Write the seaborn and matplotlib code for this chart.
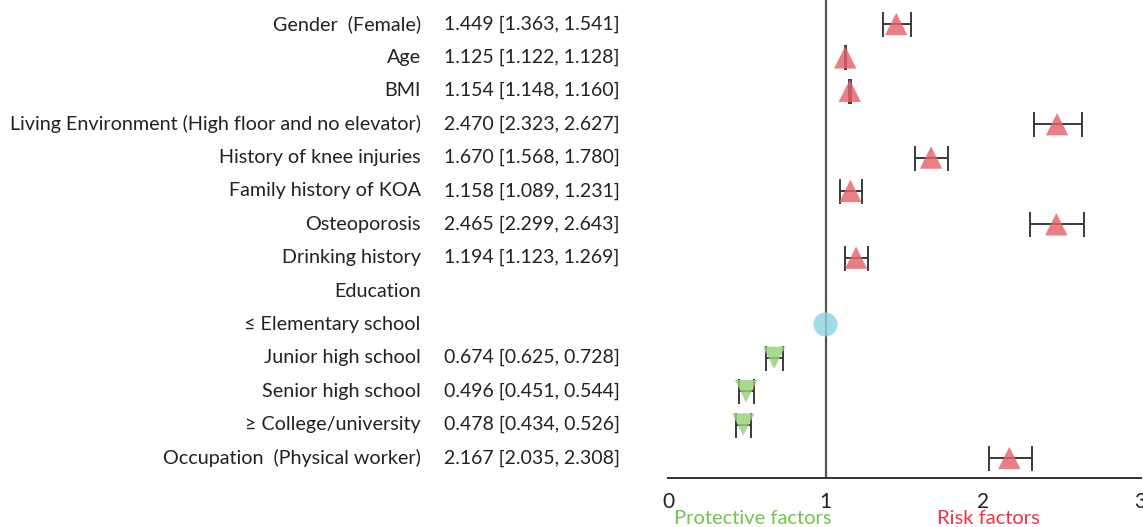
import numpy as np
import pandas as pd
import matplotlib.pyplot as plt
import seaborn as sns

# row labels, top to bottom
labels = ["Gender  (Female)", "Age", "BMI",
          "Living Environment (High floor and no elevator)",
          "History of knee injuries", "Family history of KOA", "Osteoporosis",
          "Drinking history", "Education", "\u2264 Elementary school",
          "Junior high school", "Senior high school", "\u2265 College/university",
          "Occupation  (Physical worker)"]
odds = [1.449, 1.125, 1.154, 2.470, 1.670, 1.158, 2.465, 1.194,
        np.nan, 1.0, 0.674, 0.496, 0.478, 2.167]
lower = [1.363, 1.122, 1.148, 2.323, 1.568, 1.089, 2.299, 1.123,
         np.nan, np.nan, 0.625, 0.451, 0.434, 2.035]
upper = [1.541, 1.128, 1.160, 2.627, 1.780, 1.231, 2.643, 1.269,
         np.nan, np.nan, 0.728, 0.544, 0.526, 2.308]
kind = ["risk"] * 8 + ["none", "ref", "prot", "prot", "prot", "risk"]

df = pd.DataFrame({"label": labels, "OR": odds, "lo": lower, "hi": upper, "kind": kind})
df["row"] = np.arange(len(df))

sns.set_style("white")
plt.rcParams["font.family"] = ["Lato", "DejaVu Sans"]

fig = plt.figure(figsize=(11.43, 5.27), dpi=100)
ax = fig.add_axes([0.5844, 0.093, 0.4135, 0.907])

palette = {"risk": "#e6626a", "prot": "#94d277", "ref": "#8dd4e1"}
markers = {"risk": "^", "prot": "v", "ref": "o"}
sizes = {"risk": 260, "prot": 260, "ref": 300}

# error bars first, markers on top (semi-transparent so the bar shows through)
ci = df.dropna(subset=["lo"])
ax.errorbar(ci["OR"], ci["row"], xerr=[ci["OR"] - ci["lo"], ci["hi"] - ci["OR"]],
            fmt="none", ecolor="#3a3a3a", elinewidth=1.4, capsize=9, capthick=1.4, zorder=2)

for k in ["risk", "prot", "ref"]:
    sub = df[df["kind"] == k]
    sns.scatterplot(data=sub, x="OR", y="row", marker=markers[k], s=sizes[k],
                    color=palette[k], alpha=0.82, edgecolor="none", ax=ax, zorder=3)

ax.axvline(1, color="#555555", lw=1.6, zorder=1)

ax.set_xlim(0, 3)
ax.set_ylim(13.6, -0.72)
ax.set_xticks([0, 1, 2, 3])
ax.set_yticks([])
ax.set_xlabel("")
ax.set_ylabel("")
for s in ["top", "left", "right"]:
    ax.spines[s].set_visible(False)
ax.spines["bottom"].set_color("#333333")
ax.spines["bottom"].set_linewidth(1.4)
ax.tick_params(axis="x", direction="out", length=7, width=1.4, color="#333333",
               labelsize=15, pad=3, labelcolor="#222222")

# text columns on the left
for _, r in df.iterrows():
    ax.text(-1.57, r["row"], r["label"], ha="right", va="center", fontsize=14.2,
            color="#222222", clip_on=False)
    if not np.isnan(r["lo"]):
        txt = f"{r['OR']:.3f} [{r['lo']:.3f}, {r['hi']:.3f}]"
        ax.text(-1.42, r["row"], txt, ha="left", va="center", fontsize=14,
                color="#222222", clip_on=False)

fig.text(753 / 1143, 1 - 519 / 527, "Protective factors", ha="center", va="center",
         fontsize=14.5, color="#72c44e")
fig.text(988 / 1143, 1 - 519 / 527, "Risk factors", ha="center", va="center",
         fontsize=14.5, color="#ef3340")

fig.savefig("out.png", dpi=100)
